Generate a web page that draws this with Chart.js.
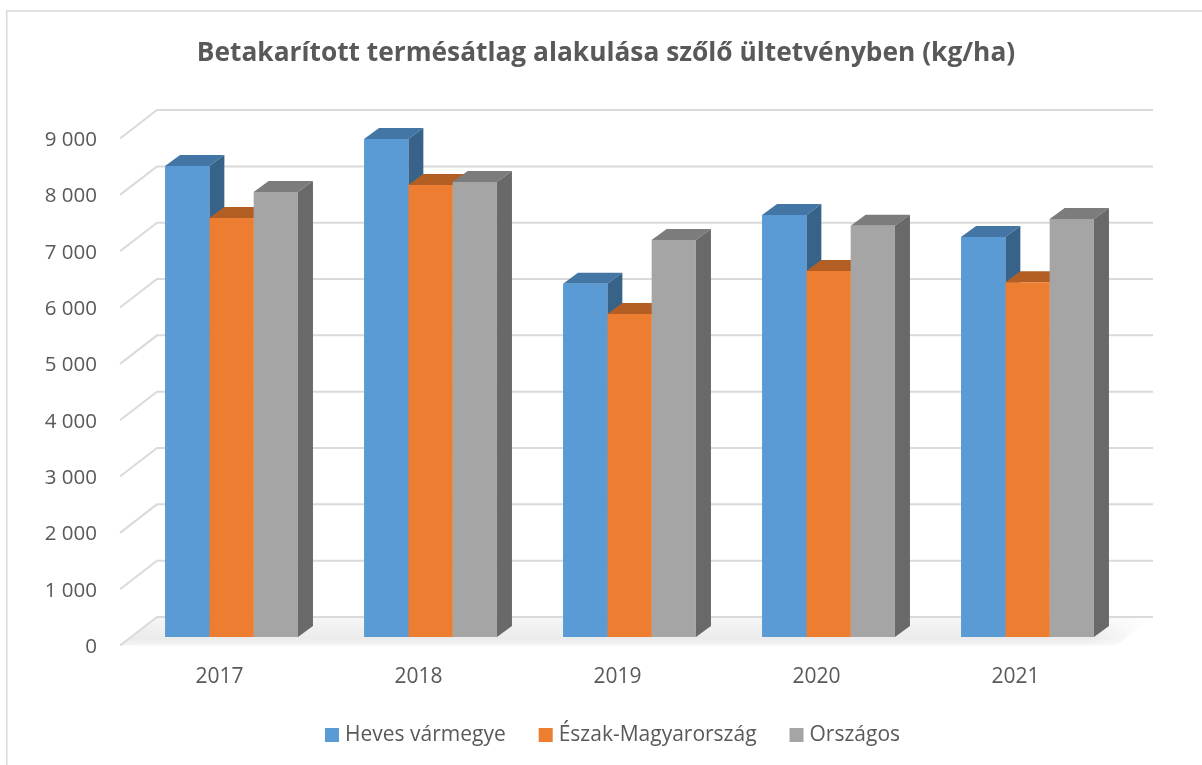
<!DOCTYPE html>
<html><head><meta charset="utf-8">
<style>html,body{margin:0;padding:0;background:#fff}#w{width:1202px;height:765px}</style>
<script src="https://cdn.jsdelivr.net/npm/chart.js@4"></script></head>
<body><div id="w"><canvas id="c" width="1202" height="765"></canvas></div>
<script>
const categories = ['2017','2018','2019','2020','2021'];
const heves = [8360,8840,6270,7490,7100];
const eszak = [7440,8025,5735,6500,6300];
const orszagos = [7900,8080,7050,7300,7420];
const yTicks = [0,1000,2000,3000,4000,5000,6000,7000,8000,9000];
const FONT = '"Open Sans", sans-serif';
const DX = 15, DY = 11;
const BOX_BASE = 9.5, BOX_FULL = 14, LEGEND_SHIFT = 6.5, LEGEND_FONT = 21;
const shades = {
  '#5b9bd5': {top:'#4376a4', side:'#376389'},
  '#ed7d31': {top:'#b35f23', side:'#a5541c'},
  '#a5a5a5': {top:'#7c7c7c', side:'#696969'}
};
const scene = {
  id:'scene',
  afterLayout(chart){
    const l = chart.legend;
    l.left += LEGEND_SHIFT; l.right += LEGEND_SHIFT;
    l.legendHitBoxes.forEach(h=>{h.left += LEGEND_SHIFT;});
  },
  beforeDraw(chart){
    const c = chart.ctx;
    c.save();
    c.fillStyle='#fff'; c.fillRect(0,0,chart.width,chart.height);
    c.strokeStyle='#d9d9d9'; c.lineWidth=1.5;
    c.beginPath(); c.moveTo(6.75,chart.height); c.lineTo(6.75,11); c.lineTo(chart.width,11); c.stroke();
    c.restore();
  },
  beforeDatasetsDraw(chart){
    const c = chart.ctx, y = chart.scales.y;
    const xL=120, xB=157, xR=1153, back=-20, front=8.5;
    const y0 = y.getPixelForValue(0);
    c.save();
    const g = c.createLinearGradient(0,y0+back,0,y0+front);
    g.addColorStop(0,'#f6f6f6'); g.addColorStop(.75,'#ebebeb'); g.addColorStop(1,'#f6f6f6');
    c.fillStyle=g;
    c.beginPath(); c.moveTo(xL,y0+front); c.lineTo(xB,y0+back); c.lineTo(xR,y0+back); c.lineTo(xR-37,y0+front); c.closePath(); c.fill();
    const h = c.createLinearGradient(1090,0,1150,0);
    h.addColorStop(0,'rgba(255,255,255,0)'); h.addColorStop(1,'rgba(255,255,255,1)');
    c.fillStyle=h; c.fillRect(1090,y0+back+1,70,30);
    c.strokeStyle='#dadada'; c.lineWidth=2;
    yTicks.forEach(v=>{
      const p=y.getPixelForValue(v);
      c.beginPath(); c.moveTo(xL,p+front); c.lineTo(xB,p+back); c.lineTo(xR,p+back); c.stroke();
    });
    chart.data.datasets.forEach((ds,i)=>{
      const s = shades[ds.backgroundColor];
      chart.getDatasetMeta(i).data.forEach(el=>{
        const l=el.x-el.width/2, r=el.x+el.width/2, t=el.y, b=el.base;
        c.fillStyle=s.top;
        c.beginPath(); c.moveTo(l,t); c.lineTo(l+DX,t-DY); c.lineTo(r+DX,t-DY); c.lineTo(r,t); c.closePath(); c.fill();
        c.fillStyle=s.side;
        c.beginPath(); c.moveTo(r,t); c.lineTo(r+DX,t-DY); c.lineTo(r+DX,b-DY); c.lineTo(r,b); c.closePath(); c.fill();
      });
    });
    c.restore();
  },
  afterDraw(chart){
    const c = chart.ctx;
    c.save();
    chart.legend.legendHitBoxes.forEach((h,i)=>{
      c.fillStyle = chart.data.datasets[i].backgroundColor;
      c.fillRect(h.left+BOX_BASE-0.5, h.top+(LEGEND_FONT-BOX_FULL)/2, BOX_FULL-BOX_BASE+0.5, BOX_FULL);
    });
    c.restore();
  }
};
new Chart(document.getElementById('c'),{
  type:'bar',
  data:{labels:categories,datasets:[
    {label:'Heves vármegye',data:heves,backgroundColor:'#5b9bd5'},
    {label:'Észak-Magyarország',data:eszak,backgroundColor:'#ed7d31'},
    {label:'Országos',data:orszagos,backgroundColor:'#a5a5a5'}
  ]},
  options:{
    responsive:false,animation:false,
    layout:{padding:{left:10,right:0,top:0,bottom:9.5}},
    categoryPercentage:.668,barPercentage:1,
    plugins:{
      tooltip:{enabled:false},
      title:{display:true,text:'Betakarított termésátlag alakulása szőlő ültetvényben (kg/ha)',
        color:'#595959',font:{family:FONT,size:26.3,weight:'bold',lineHeight:1.2},padding:{top:38,bottom:60.5}},
      legend:{position:'bottom',labels:{color:'#595959',font:{family:FONT,size:LEGEND_FONT},boxWidth:BOX_BASE,boxHeight:BOX_FULL,padding:33}}
    },
    scales:{
      x:{grid:{display:false,drawTicks:false},border:{display:false},
        afterFit(s){s.height=54.5;},
        ticks:{color:'#595959',font:{family:FONT,size:21},padding:27,labelOffset:-12,maxRotation:0}},
      y:{min:0,max:9000,grid:{display:false,drawTicks:false},border:{display:false},
        afterFit(s){s.width=122;},
        ticks:{stepSize:1000,autoSkip:false,color:'#595959',font:{family:FONT,size:20.5},padding:35,labelOffset:10,
          callback:v=>v===0?'0':Math.floor(v/1000)+' 000'}},
      y2:{position:'right',grid:{display:false,drawTicks:false},border:{display:false},ticks:{display:false},afterFit(s){s.width=75;}}
    }
  },
  plugins:[scene]
});
</script></body></html>
